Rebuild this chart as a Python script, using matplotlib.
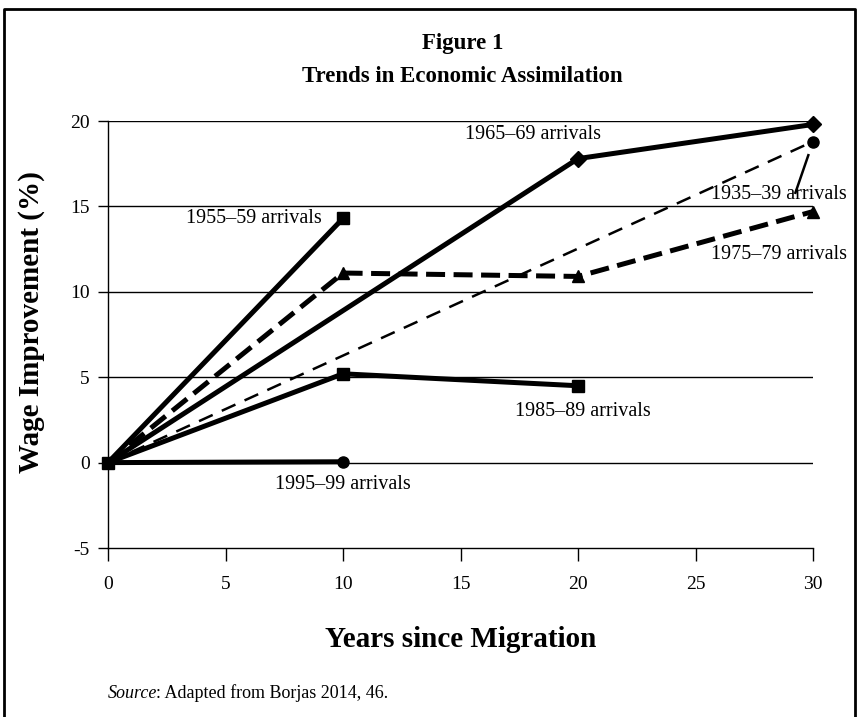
import matplotlib
matplotlib.use("Agg")
import matplotlib.pyplot as plt
from matplotlib.lines import Line2D

plt.rcParams['font.family'] = ['Liberation Serif', 'DejaVu Serif']

# values (years since migration, wage improvement %)
x_3539 = [0, 30]
y_3539 = [0, 18.8]
x_5559 = [0, 10]
y_5559 = [0, 14.3]
x_6569 = [0, 20, 30]
y_6569 = [0, 17.8, 19.8]
x_7579 = [0, 10, 20, 30]
y_7579 = [0, 11.1, 10.9, 14.7]
x_8589 = [0, 10, 20]
y_8589 = [0, 5.2, 4.5]
x_9599 = [0, 10]
y_9599 = [0, 0.05]

x_ticks = [0, 5, 10, 15, 20, 25, 30]
y_ticks = [-5, 0, 5, 10, 15, 20]

fig = plt.figure(figsize=(8.58, 7.17), dpi=100)
ax = fig.add_axes([0.1259, 0.2357, 0.8217, 0.5955])

# horizontal grid
for yv in y_ticks[1:]:
    ax.axhline(yv, color='black', lw=1.0, zorder=1)

ax.plot(x_3539, y_3539, color='black', lw=1.8, ls=(0, (6, 4)), marker='o',
        markersize=8, markevery=[1], clip_on=False, zorder=3)
ax.plot(x_5559, y_5559, color='black', lw=3.6, marker='s', markersize=8,
        markevery=[1], clip_on=False, zorder=3)
ax.plot(x_6569, y_6569, color='black', lw=3.6, marker='D', markersize=8,
        markevery=[1, 2], clip_on=False, zorder=3)
ax.plot(x_7579, y_7579, color='black', lw=3.6, ls=(0, (3.8, 1.7)), marker='^',
        markersize=9, markevery=[1, 2, 3], clip_on=False, zorder=3)
ax.plot(x_8589, y_8589, color='black', lw=3.6, marker='s', markersize=8,
        clip_on=False, zorder=4)
ax.plot(x_9599, y_9599, color='black', lw=3.6, marker='o', markersize=8,
        markevery=[1], clip_on=False, zorder=3)

lab = dict(fontsize=14.5, color='black', va='center')
ax.text(9.1, 14.3, '1955–59 arrivals', ha='right', **lab)
ax.text(15.2, 19.2, '1965–69 arrivals', ha='left', **lab)
ax.text(25.65, 15.7, '1935–39 arrivals', ha='left', **lab)
ax.text(25.65, 12.2, '1975–79 arrivals', ha='left', **lab)
ax.text(17.3, 3.0, '1985–89 arrivals', ha='left', **lab)
ax.text(7.1, -1.3, '1995–99 arrivals', ha='left', **lab)
ax.plot([29.8, 29.25], [18.0, 15.8], color='black', lw=1.8, zorder=3)

ax.set_xlim(0, 30)
ax.set_ylim(-5, 20)
ax.set_xticks(x_ticks)
ax.set_yticks(y_ticks)
ax.set_xticklabels([str(v) for v in x_ticks])
ax.set_yticklabels([str(v) for v in y_ticks])
for s in ['top', 'right']:
    ax.spines[s].set_visible(False)
ax.spines['left'].set_linewidth(1.0)
ax.spines['bottom'].set_linewidth(1.0)
ax.tick_params(axis='y', direction='out', length=7, width=1, pad=6, labelsize=14)
ax.tick_params(axis='x', direction='out', length=9, width=1, pad=11, labelsize=14)

ax.set_ylabel('Wage Improvement (%)', fontsize=21, fontweight='bold')
ax.yaxis.set_label_coords(-0.09, 0.53)
ax.set_xlabel('Years since Migration', fontsize=21, fontweight='bold', labelpad=24)

fig.text(0.539, 0.939, 'Figure 1', ha='center', va='center', fontsize=16.5, fontweight='bold')
fig.text(0.539, 0.893, 'Trends in Economic Assimilation', ha='center', va='center',
         fontsize=16.5, fontweight='bold')

fig.text(0.126, 0.033, 'Source', ha='left', va='center', fontsize=13, style='italic')
fig.text(0.126 + 0.056, 0.033, ': Adapted from Borjas 2014, 46.', ha='left', va='center', fontsize=13)

# outer frame (open at the bottom)
fig.add_artist(Line2D([0.005, 0.005, 0.997, 0.997], [0.0, 0.987, 0.987, 0.0],
                      transform=fig.transFigure, color='black', lw=2))

fig.savefig('out.png', dpi=100)
